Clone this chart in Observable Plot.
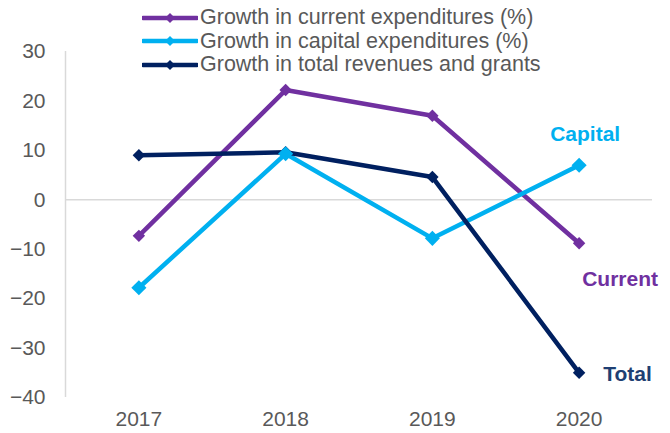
<!DOCTYPE html>
<html><head><meta charset="utf-8">
<script src="https://cdn.jsdelivr.net/npm/d3@7"></script>
<script src="https://cdn.jsdelivr.net/npm/@observablehq/plot@0.6"></script>
<style>
body{margin:0;background:#fff;font-family:"Liberation Sans",Arial,sans-serif;}
#wrap{position:relative;width:670px;height:433px;}
#legend{position:absolute;left:142px;top:6px;font-size:21.5px;color:#595959;line-height:23.5px;}
#legend .row{display:flex;align-items:center;white-space:nowrap;}
#legend svg{margin-right:2px;}
</style></head>
<body><div id="wrap"><div id="legend"></div></div>
<script>
const years = ["2017", "2018", "2019", "2020"];
const seriesNames = ["Growth in current expenditures (%)", "Growth in capital expenditures (%)", "Growth in total revenues and grants"];
const shortLabels = ["Current", "Capital", "Total"];
const currentVals = [-7.3, 22.2, 17.0, -8.8];
const capitalVals = [-17.8, 9.3, -7.8, 7.0];
const totalVals = [9.0, 9.6, 4.6, -35.0];
const colors = ["#7030A0", "#00B0F0", "#002060"];
const labelColors = ["#7030A0", "#00B0F0", "#1F3F73"];
const yTicks = [-40, -30, -20, -10, 0, 10, 20, 30];

const allVals = [currentVals, capitalVals, totalVals];
const rows = [];
allVals.forEach((vals, s) => vals.forEach((v, i) => rows.push({s, name: seriesNames[s], i, v})));
const last = allVals.map((vals, s) => ({s, i: vals.length - 1, v: vals[vals.length - 1], label: shortLabels[s]}));

const lineW = 4.5;
const chart = Plot.plot({
  width: 670, height: 433,
  marginLeft: 65, marginRight: 18, marginTop: 51, marginBottom: 36,
  style: {fontFamily: "Liberation Sans, Arial, sans-serif", background: "#fff", overflow: "visible"},
  x: {type: "linear", domain: [-0.5, years.length - 0.5]},
  y: {domain: [-40, 30]},
  marks: [
    Plot.axisY({ticks: yTicks, tickSize: 0, tickPadding: 20, fontSize: 21, color: "#595959", label: null}),
    Plot.axisX({ticks: d3.range(years.length), tickFormat: i => years[i], tickSize: 0, tickPadding: 14, fontSize: 21, color: "#595959", label: null}),
    Plot.ruleX([-0.5], {y1: -40, y2: 30, stroke: "#d9d9d9", strokeWidth: 1.5}),
    Plot.ruleY([0], {stroke: "#d9d9d9", strokeWidth: 1.5}),
    Plot.line(rows, {x: "i", y: "v", z: "s", stroke: d => colors[d.s], strokeWidth: lineW, strokeLinejoin: "miter"}),
    Plot.dot(rows.filter(d => d.s !== 1), {x: "i", y: "v", symbol: "diamond2", r: 5.6, fill: d => colors[d.s], stroke: "none"}),
    Plot.dot(rows.filter(d => d.s === 1), {x: "i", y: "v", symbol: "diamond2", r: 6.8, fill: colors[1], stroke: "none"}),
    Plot.text(last.filter(d => d.s === 1), {x: "i", y: "v", text: "label", dx: 6, dy: -31, fill: labelColors[1], fontWeight: "bold", fontSize: 21}),
    Plot.text(last.filter(d => d.s === 0), {x: "i", y: "v", text: "label", dx: 41, dy: 36, fill: labelColors[0], fontWeight: "bold", fontSize: 21}),
    Plot.text(last.filter(d => d.s === 2), {x: "i", y: "v", text: "label", dx: 24, dy: 1, textAnchor: "start", fill: labelColors[2], fontWeight: "bold", fontSize: 21})
  ]
});
chart.style.position = "absolute";
chart.style.left = "0"; chart.style.top = "0";
document.getElementById("wrap").prepend(chart);

const leg = document.getElementById("legend");
seriesNames.forEach((n, s) => {
  const row = document.createElement("div");
  row.className = "row";
  const c = colors[s];
  row.innerHTML = `<svg width="56" height="12"><line x1="1" x2="55" y1="6" y2="6" stroke="${c}" stroke-width="4.5" stroke-linecap="round"/><path d="M28,1 L33,6 L28,11 L23,6Z" fill="${c}"/></svg><span>${n}</span>`;
  leg.appendChild(row);
});
</script></body></html>
